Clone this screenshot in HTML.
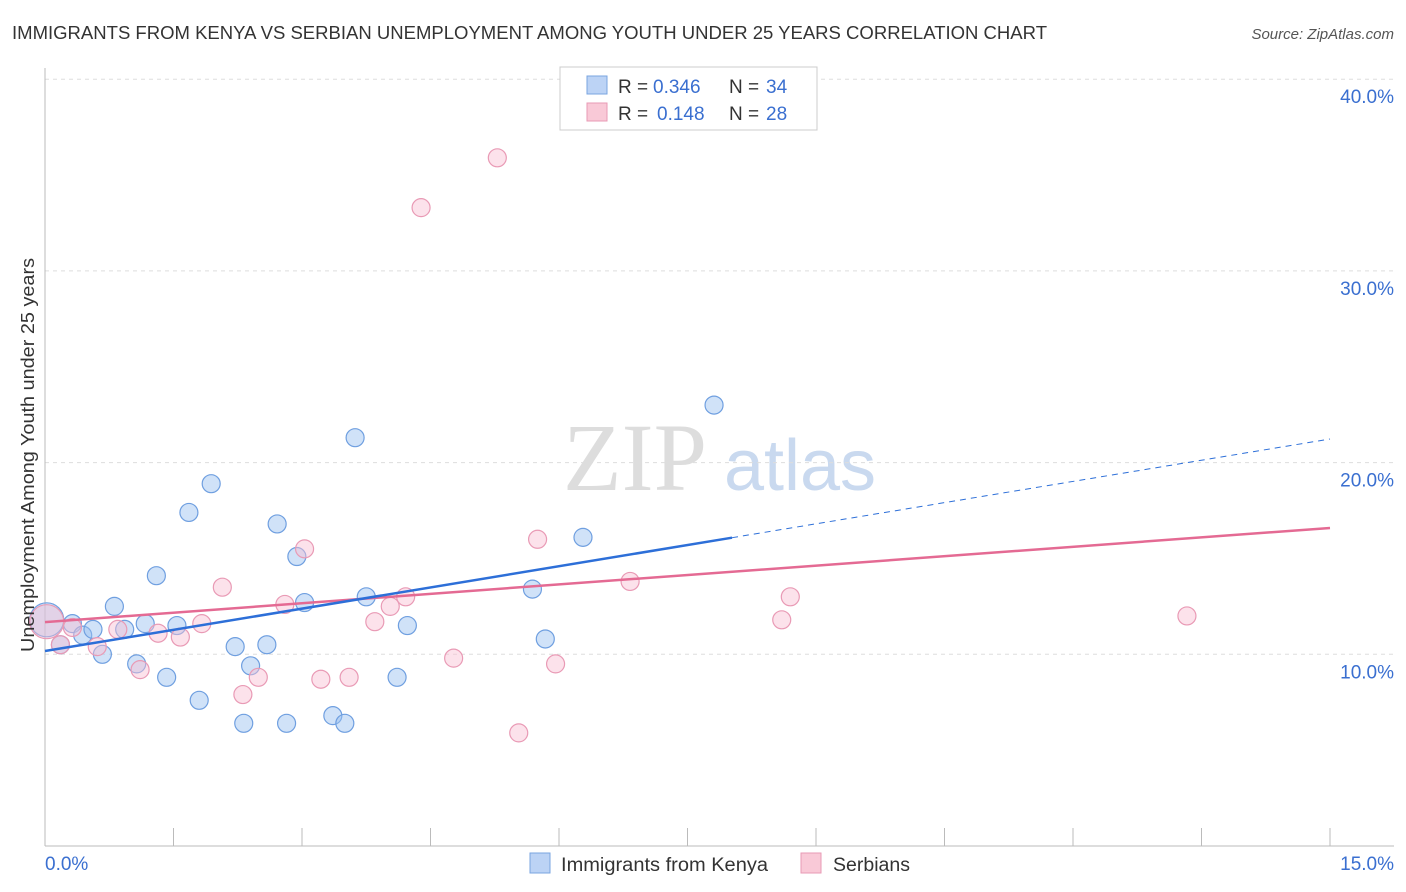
<!DOCTYPE html>
<html><head><meta charset="utf-8">
<style>
body{margin:0;background:#fff;font-family:"Liberation Sans",sans-serif;}
svg{display:block}
</style></head>
<body>
<svg id="chart" width="1406" height="892">
<text x="12" y="39" font-size="18" fill="#333" textLength="1035" lengthAdjust="spacingAndGlyphs">IMMIGRANTS FROM KENYA VS SERBIAN UNEMPLOYMENT AMONG YOUTH UNDER 25 YEARS CORRELATION CHART</text>
<text x="1394" y="39" font-size="15" fill="#555" text-anchor="end" font-style="italic">Source: ZipAtlas.com</text>
<text x="635" y="490" font-size="96" fill="#ddd" font-family="Liberation Serif,serif" text-anchor="middle">ZIP</text>
<text x="800" y="490" font-size="72" fill="#c9d9ef" text-anchor="middle">atlas</text>
<g id="grid"></g>
<g id="axes"></g>
<g id="marks"></g>
<text x="34" y="455" font-size="18" fill="#333" text-anchor="middle" textLength="394" lengthAdjust="spacingAndGlyphs" transform="rotate(-90 34 455)">Unemployment Among Youth under 25 years</text>
<g>
<rect x="560" y="67" width="257" height="63" fill="#fff" stroke="#ccc"/>
<rect x="587" y="76" width="20" height="18" fill="#bcd3f5" stroke="#7aa5e0"/>
<rect x="587" y="103" width="20" height="18" fill="#f9c9d7" stroke="#e89ab4"/>
<text x="618" y="93" font-size="19" fill="#333">R =</text>
<text x="653" y="93" font-size="19" fill="#3a6fd0">0.346</text>
<text x="729" y="93" font-size="19" fill="#333">N =</text>
<text x="766" y="93" font-size="19" fill="#3a6fd0">34</text>
<text x="618" y="120" font-size="19" fill="#333">R =</text>
<text x="657" y="120" font-size="19" fill="#3a6fd0">0.148</text>
<text x="729" y="120" font-size="19" fill="#333">N =</text>
<text x="766" y="120" font-size="19" fill="#3a6fd0">28</text>
</g>
<g>
<rect x="530" y="853" width="20" height="20" fill="#bcd3f5" stroke="#7aa5e0"/>
<text x="561" y="871" font-size="19" fill="#333" textLength="207" lengthAdjust="spacingAndGlyphs">Immigrants from Kenya</text>
<rect x="801" y="853" width="20" height="20" fill="#f9c9d7" stroke="#e89ab4"/>
<text x="833" y="871" font-size="19" fill="#333" textLength="77" lengthAdjust="spacingAndGlyphs">Serbians</text>
</g>
</svg>
<script>
const yTicks=[10,20,30,40];
const yTickLabels=["10.0%","20.0%","30.0%","40.0%"];
const kenyaX=[0.02,0.18,0.32,0.44,0.56,0.67,0.81,0.93,1.07,1.17,1.30,1.42,1.54,1.68,1.80,1.94,2.22,2.32,2.40,2.59,2.71,2.82,2.94,3.03,3.36,3.50,3.62,3.75,4.11,4.23,5.69,5.84,6.28,7.81];
const kenyaY=[11.8,10.5,11.6,11.0,11.3,10.0,12.5,11.3,9.5,11.6,14.1,8.8,11.5,17.4,7.6,18.9,10.4,6.4,9.4,10.5,16.8,6.4,15.1,12.7,6.8,6.4,21.3,13.0,8.8,11.5,13.4,10.8,16.1,23.0];
const kenyaR=[17,9,9,9,9,9,9,9,9,9,9,9,9,9,9,9,9,9,9,9,9,9,9,9,9,9,9,9,9,9,9,9,9,9];
const serbX=[0.02,0.18,0.32,0.61,0.85,1.11,1.32,1.58,1.83,2.07,2.31,2.49,2.80,3.03,3.22,3.55,3.85,4.03,4.21,4.39,4.77,5.28,5.53,5.75,5.96,6.83,8.60,8.70,13.33];
const serbY=[11.7,10.5,11.4,10.4,11.3,9.2,11.1,10.9,11.6,13.5,7.9,8.8,12.6,15.5,8.7,8.8,11.7,12.5,13.0,33.3,9.8,35.9,5.9,16.0,9.5,13.8,11.8,13.0,12.0];
const serbR=[17,9,9,9,9,9,9,9,9,9,9,9,9,9,9,9,9,9,9,9,9,9,9,9,9,9,9,9,9];
const kenyaLine=[10.17,21.23]; const kenyaSolidEnd=8.02;
const serbLine=[11.68,16.59];
const X=v=>45+v/15*1285, Y=v=>846-v*19.17;
const NS="http://www.w3.org/2000/svg";
function mk(t,a,p){const e=document.createElementNS(NS,t);for(const k in a)e.setAttribute(k,a[k]);p.appendChild(e);return e;}
const grid=document.getElementById('grid'),axes=document.getElementById('axes'),marks=document.getElementById('marks');
yTicks.forEach((t,i)=>{
 const l=mk('line',{x1:45,x2:1394,y1:Y(t),y2:Y(t),stroke:'#ddd','stroke-dasharray':'4,4'},grid);
 
 
 const tx=mk('text',{x:1394,y:Y(t)+24,'font-size':19,fill:'#3a6fd0','text-anchor':'end'},axes);
 tx.textContent=yTickLabels[i];
 
 
});
const ax=mk('line',{x1:45,x2:45,y1:68,y2:846,stroke:'#bbb'},axes);


const xa=mk('line',{x1:45,x2:1394,y1:846,y2:846,stroke:'#bbb'},axes);


for(let i=1;i<=10;i++){const t=mk('line',{x1:X(i*1.5),x2:X(i*1.5),y1:828,y2:846,stroke:'#bbb'},axes);
 
 }
const x0=mk('text',{x:45,y:870,'font-size':19,fill:'#3a6fd0'},axes);x0.textContent='0.0%';


const x1=mk('text',{x:1394,y:870,'font-size':19,fill:'#3a6fd0','text-anchor':'end'},axes);x1.textContent='15.0%';


kenyaX.forEach((v,i)=>{const c=mk('circle',{cx:X(v),cy:Y(kenyaY[i]),r:kenyaR[i],fill:'rgba(150,190,240,0.45)',stroke:'#6f9fe0','stroke-width':1.2},marks);
 
 });
serbX.forEach((v,i)=>{const c=mk('circle',{cx:X(v),cy:Y(serbY[i]),r:serbR[i],fill:'rgba(248,190,210,0.45)',stroke:'#e99ab5','stroke-width':1.2},marks);
 
 });
const kf=x=>kenyaLine[0]+(kenyaLine[1]-kenyaLine[0])*x/15;
const sl=mk('line',{x1:X(0),y1:Y(serbLine[0]),x2:X(15),y2:Y(serbLine[1]),stroke:'#e46a93','stroke-width':2.5},marks);


const kl=mk('line',{x1:X(0),y1:Y(kf(0)),x2:X(kenyaSolidEnd),y2:Y(kf(kenyaSolidEnd)),stroke:'#2d6fd8','stroke-width':2.5},marks);


const kd=mk('line',{x1:X(kenyaSolidEnd),y1:Y(kf(kenyaSolidEnd)),x2:X(15),y2:Y(kf(15)),stroke:'#2d6fd8','stroke-width':1,'stroke-dasharray':'6,5'},marks);


</script>
</body></html>
